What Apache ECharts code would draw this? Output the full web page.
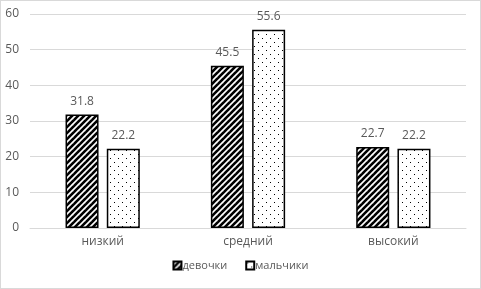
<!DOCTYPE html>
<html>
<head>
<meta charset="utf-8">
<script src="https://cdn.jsdelivr.net/npm/echarts@6/dist/echarts.min.js"></script>
<style>
  html, body { margin: 0; padding: 0; background: #fff; }
  #chart { width: 481px; height: 289px; box-sizing: border-box; border: 1px solid #d9d9d9; }
</style>
</head>
<body>
<div id="chart"></div>
<script>
var categories = ['низкий', 'средний', 'высокий'];
var girls = [31.8, 45.5, 22.7];
var boys = [22.2, 55.6, 22.2];
var seriesNames = ['девочки', 'мальчики'];

// hatch patterns like excel
function hatchPattern() {
    var c = document.createElement('canvas');
    c.width = 6; c.height = 6;
    var ctx = c.getContext('2d');
    ctx.fillStyle = '#fff';
    ctx.fillRect(0, 0, 6, 6);
    ctx.strokeStyle = '#000';
    ctx.lineWidth = 2.6;
    for (var k = -1; k <= 1; k++) {
        ctx.beginPath();
        ctx.moveTo(k * 6 - 1, 7);
        ctx.lineTo(k * 6 + 7, -1);
        ctx.stroke();
    }
    return c;
}
function dotPattern() {
    var c = document.createElement('canvas');
    c.width = 8; c.height = 8;
    var ctx = c.getContext('2d');
    ctx.fillStyle = '#fff';
    ctx.fillRect(0, 0, 8, 8);
    ctx.fillStyle = '#000';
    ctx.fillRect(1, 1, 1, 1);
    ctx.fillRect(5, 5, 1, 1);
    return c;
}

var font = 'Open Sans, Liberation Sans, sans-serif';
var chart = echarts.init(document.getElementById('chart'));
var labelOpt = {
    show: true,
    position: 'top',
    distance: 7,
    color: '#595959',
    fontSize: 12,
    fontFamily: font
};
chart.setOption({
    animation: false,
    grid: { left: 29, right: 14, top: 13, bottom: 60 },
    legend: {
        bottom: 12,
        left: 'center',
        itemWidth: 8,
        itemHeight: 8,
        itemGap: 18,
        icon: 'rect',
        textStyle: { color: '#595959', fontSize: 11, fontFamily: font, padding: [0, 0, 0, -4] },
        data: seriesNames
    },
    xAxis: {
        type: 'category',
        data: categories,
        axisLine: { lineStyle: { color: '#d9d9d9' } },
        axisTick: { show: false },
        axisLabel: { color: '#595959', fontSize: 12, fontFamily: font, margin: 8 }
    },
    yAxis: {
        type: 'value',
        min: 0,
        max: 60,
        interval: 10,
        axisLine: { show: false },
        axisTick: { show: false },
        splitLine: { lineStyle: { color: '#d9d9d9' } },
        axisLabel: { color: '#595959', fontSize: 12, fontFamily: font, margin: 11 }
    },
    series: [
        {
            name: seriesNames[0],
            type: 'bar',
            data: girls,
            barWidth: 33,
            barGap: '25%',
            itemStyle: { color: { image: hatchPattern(), repeat: 'repeat' }, borderColor: '#000', borderWidth: 1.5 },
            label: labelOpt
        },
        {
            name: seriesNames[1],
            type: 'bar',
            data: boys,
            barWidth: 33,
            itemStyle: { color: { image: dotPattern(), repeat: 'repeat' }, borderColor: '#000', borderWidth: 1.5 },
            label: labelOpt
        }
    ]
});
</script>
</body>
</html>
